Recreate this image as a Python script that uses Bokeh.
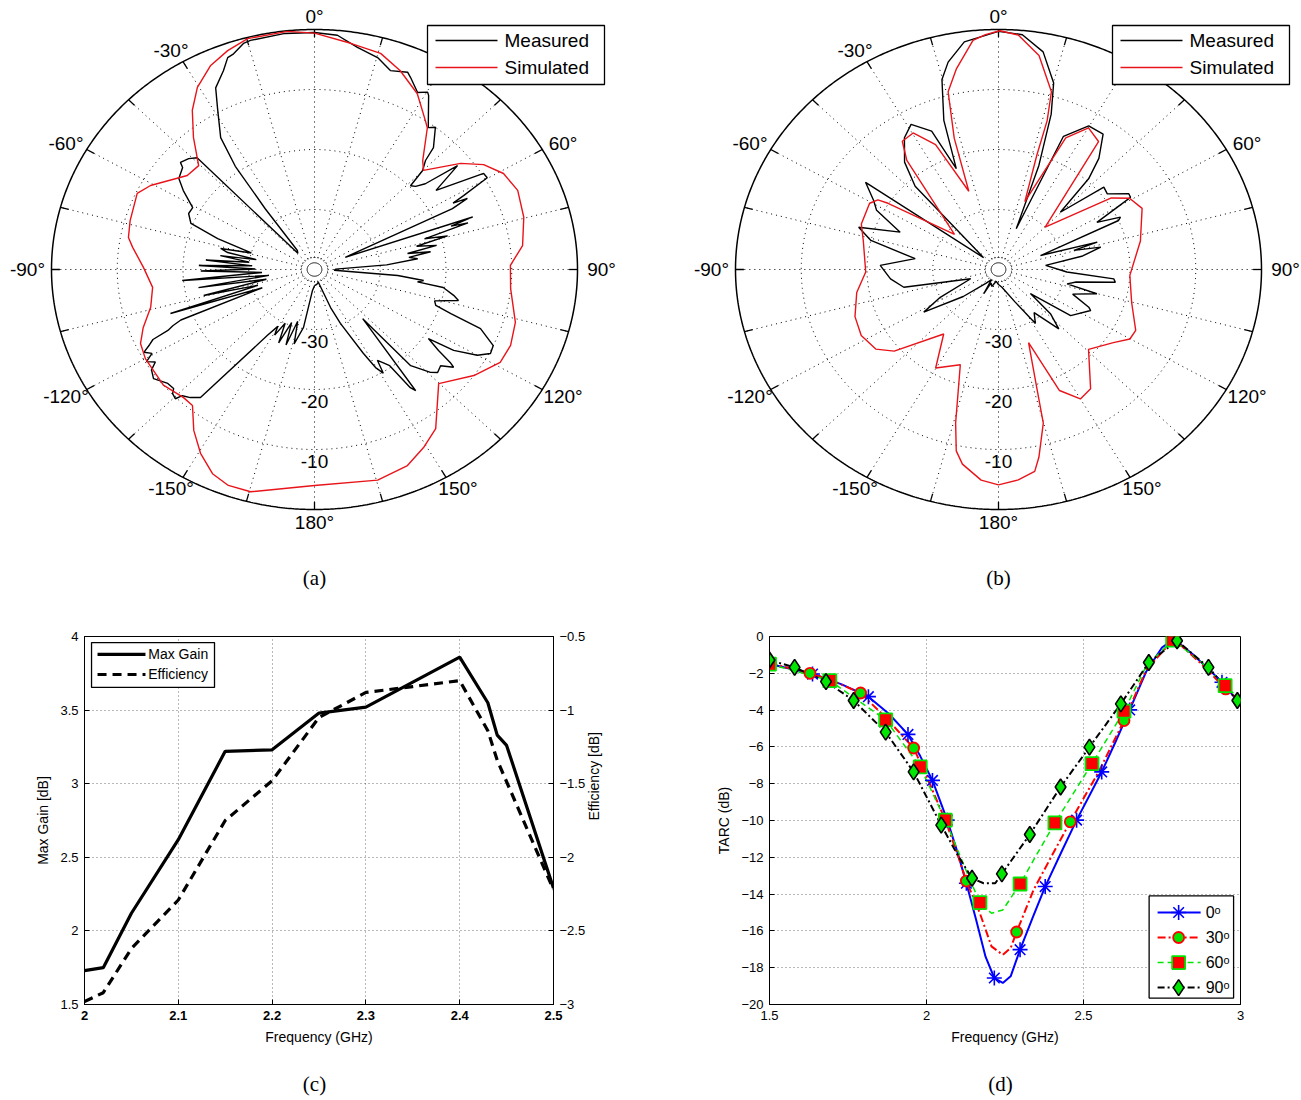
import numpy as np
from bokeh.plotting import figure
from bokeh.models import Range1d, LinearAxis, FixedTicker
from bokeh.layouts import column, row
from bokeh.core.properties import value
from bokeh.embed import file_html
from bokeh.resources import INLINE

# ---------------- DATA ----------------
# polar patterns: (angle in degrees, clockwise from top; level in dB)
a_sim = [(-180, -4.0), (-165.3, -1.7), (-160, -1.7), (-155.5, -2.6), (-150.5, -4.8), (-145.6, -7.5),
         (-140.7, -10.7), (-137, -10.8), (-130, -10.0), (-120, -10.3), (-115, -10.8), (-110.4, -12.2),
         (-104.2, -14.3), (-96.9, -15.2), (-89.3, -14.0), (-82.4, -12.1), (-79.3, -11.2), (-73.8, -10.8),
         (-64.8, -10.2), (-60.7, -11.4), (-51, -15.1), (-45.5, -15.3), (-39.9, -11.3), (-35, -7.6),
         (-30.4, -4.8), (-24.9, -2.5), (-19.9, -1.2), (-14.8, -0.2), (-5.9, -0.1), (0, -0.6), (8.3, -1.9),
         (15.6, -2.6), (21.5, -4.4), (28.1, -6.8), (34.2, -10.0), (36, -10.8), (42.2, -15.5), (45.1, -16.6),
         (51.5, -11.6), (55.8, -8.9), (60.9, -7.1), (66.9, -6.4), (74.7, -7.0), (82.8, -8.1), (88.7, -10.2),
         (96.1, -10.0), (106.1, -8.2), (113, -7.6), (118.7, -7.8), (126.1, -10.0), (135.2, -13.2),
         (145.2, -7.7), (150.8, -6.0), (156.6, -4.4), (164.7, -3.6), (180, -4.0)]

a_meas = [(-180, -37.3), (-175, -36.5), (-170.2, -30.2), (-166, -27.2), (-163.5, -31), (-161, -26.7),
          (-158.5, -30.5), (-156, -26.6), (-153.5, -30), (-151, -27.5), (-149.5, -29), (-146.9, -26.9),
          (-140.9, -12.5), (-138.5, -11.5), (-136.3, -10.9), (-135.5, -9.8), (-133.8, -10.1), (-132.8, -10.8),
          (-130.4, -10.7), (-126.6, -9.5), (-124, -10.1), (-122.5, -11.3), (-121, -10.2), (-119.5, -11.6),
          (-118, -10.6), (-116.5, -12.0), (-115.4, -12.8), (-114.5, -15.5), (-113.5, -16.5), (-112.5, -18),
          (-111, -31.5), (-108.5, -16.9), (-107, -31), (-104.4, -22.6), (-102.5, -32.5), (-99.7, -22.1),
          (-98, -33), (-95.2, -19.8), (-93.5, -32), (-90.8, -22.7), (-89.5, -31), (-87.8, -22.4),
          (-86.3, -30.5), (-84.5, -23.4), (-83, -30), (-80.8, -25.5), (-79.5, -31), (-77.9, -26.5),
          (-76.2, -25.3), (-74, -30), (-70.7, -24.4), (-67.8, -19.7), (-64, -18.7), (-60.9, -18.8),
          (-56.6, -16.1), (-53.7, -14.4), (-49.7, -13.7), (-48.8, -12.9), (-46, -13.4), (-43.8, -14.2),
          (-43.2, -36.3), (-39.4, -35.9), (-36.5, -27.4), (-35, -19), (-33, -13.8), (-28.8, -9.4),
          (-26.4, -6.2), (-22.7, -4.1), (-20.5, -2.3), (-18.9, -2.0), (-16, -0.8), (-14.3, -0.6),
          (-6.5, -0.4), (0, -0.5), (5.1, -0.8), (10, -2.4), (15.2, -3.4), (19.2, -4.9), (23.3, -4.2),
          (24.5, -4.8), (28, -6.6), (30.2, -5.8), (30.9, -6.2), (36.2, -10.7), (37.8, -10.0), (41.7, -12.8),
          (42.9, -15.2), (44.9, -16.7), (46.3, -19.8), (48, -19.3), (49.7, -17.9), (51.5, -12.2),
          (54.5, -17.3), (58.1, -9.7), (59.8, -9.6), (61.5, -14.2), (62.3, -16.2), (63, -13.9), (64.2, -16.7),
          (66.5, -34.9), (70, -14.4), (70.8, -18.0), (71.6, -15.4), (73, -22.5), (74.5, -19.0), (76, -24),
          (77.8, -21), (79.3, -25.6), (80.5, -22.1), (82, -25.5), (83.5, -24.2), (86, -29), (89, -36.8),
          (92.5, -37), (94.5, -27.3), (96.3, -23.3), (97.5, -24.2), (98.7, -20.2), (101.5, -18.4),
          (103.3, -17.5), (106, -21), (108, -20.6), (109.5, -18.0), (111.3, -12.9), (115, -10.0),
          (117.6, -9.8), (120, -11.4), (122.5, -14.9), (123.6, -19.2), (125.6, -16.8), (126.9, -14.2),
          (127.6, -13.3), (129.9, -15.0), (132.5, -14.6), (134.2, -15.4), (137.6, -18.3), (138.2, -29.0),
          (142.7, -14.6), (143.5, -15.5), (144.5, -20.3), (146.5, -21.5), (147.7, -22.1), (148.8, -19.8),
          (150.4, -21.2), (152, -24.2), (156.3, -30.2), (158.9, -33.2), (164.5, -37.8), (172, -37.5),
          (180, -37.3)]

b_sim = [(-180, -4.1), (-175.7, -4.8), (-170.4, -7.1), (-168, -9.1), (-165.7, -13.6), (-159.9, -23.1),
         (-149.8, -21.0), (-142.2, -26.4), (-130.6, -19.1), (-125.4, -17.1), (-117.8, -16.4), (-109.8, -16.8),
         (-100.1, -18.1), (-91.2, -19.8), (-77, -18.9), (-70, -17.8), (-60.6, -17.5), (-57.7, -18.3),
         (-56.7, -19.9), (-48.8, -31.1), (-37.5, -17.1), (-34.4, -14.1), (-29.7, -13.8), (-24.7, -17.1),
         (-19.1, -26.2), (-17.1, -17.1), (-14.5, -9.4), (-10.9, -6.0), (-5.8, -1.6), (-2.9, -0.8),
         (0.3, -0.2), (4.4, -0.8), (9.8, -3.8), (15.2, -9.3), (16.6, -14.1), (17, -20.0), (19.5, -28),
         (25, -15.8), (30.1, -12.7), (35.5, -13.8), (45.2, -30.0), (55.2, -19.1), (59.2, -16.8),
         (65, -15.9), (77.6, -17.9), (92.8, -20.0), (105.3, -19.0), (115.9, -16.8), (120.1, -16.9),
         (124.9, -18.7), (134.2, -20.9), (144.8, -15.7), (150, -15.1), (155.3, -17.8), (159.4, -27.0),
         (163.6, -19.3), (165.1, -13.5), (168.9, -8.1), (170.7, -5.9), (175.1, -4.8), (180, -4.1)]

b_meas = [(-180, -37.5), (-170, -38), (-160, -37), (-153, -37.5), (-151, -35.4), (-148, -38),
          (-140, -37), (-130, -33), (-122, -26.6), (-117.6, -30), (-110, -35.5), (-101.6, -25.3),
          (-95.4, -23.5), (-87.8, -22.0), (-81.9, -27.2), (-76, -20), (-71.7, -17.6), (-67.4, -23.8),
          (-62, -19), (-58.8, -17.8), (-54.3, -15.1), (-49, -37), (-42.4, -21.2), (-38.6, -17.1),
          (-33.1, -13.8), (-28.8, -12.4), (-23.8, -14.8), (-20.9, -22.0), (-18.5, -13.8), (-15.2, -7.2),
          (-12.5, -4.6), (-7.8, -1.7), (0, -0.3), (5.3, -0.7), (10.6, -3.1), (15.1, -7.8), (17.2, -12.9),
          (19.5, -21.6), (21.7, -32.7), (24, -15.7), (29.8, -12.4), (35.2, -12.4), (39.5, -16.0),
          (42.2, -19.6), (44.6, -26.6), (49.4, -18.9), (52.7, -19.2), (57.5, -16.5), (59.1, -16.6),
          (62.3, -23.1), (64.8, -19.5), (65.9, -20), (70, -33.2), (73.1, -24.3), (74.5, -28.1),
          (76.5, -24), (80, -27), (84.6, -32.8), (92.3, -29.6), (95.1, -22.4), (96.8, -22.1), (100, -28),
          (102.9, -29.3), (105.1, -24.5), (110, -28), (114.6, -24.9), (116, -24.4), (125, -26.6),
          (129.6, -33.7), (133, -29.2), (137.2, -26.5), (143, -31), (148, -29.4), (155, -34), (170, -37),
          (180, -37.5)]

polar_db_min, polar_db_max = -40, 0
polar_rings = [-30, -20, -10]
polar_angle_labels = [0, 30, 60, 90, 120, 150, 180, -30, -60, -90, -120, -150]

# panel (c)
c_gain_freq = [2.0, 2.02, 2.05, 2.1, 2.15, 2.2, 2.25, 2.3, 2.4, 2.43, 2.44, 2.45, 2.5]
c_gain = [1.73, 1.75, 2.12, 2.62, 3.22, 3.23, 3.48, 3.52, 3.86, 3.55, 3.33, 3.26, 2.29]
c_eff_freq = [2.0, 2.02, 2.05, 2.1, 2.15, 2.2, 2.25, 2.3, 2.35, 2.4, 2.43, 2.44, 2.5]
c_eff = [-2.98, -2.92, -2.62, -2.29, -1.75, -1.48, -1.05, -0.88, -0.84, -0.80, -1.14, -1.34, -2.22]
c_xticks = [2.0, 2.1, 2.2, 2.3, 2.4, 2.5]
c_yticks = [1.5, 2.0, 2.5, 3.0, 3.5, 4.0]
c_y2ticks = [-3.0, -2.5, -2.0, -1.5, -1.0, -0.5]

# panel (d): TARC curves and marker positions for 0, 30, 60, 90 degrees
d0_f = [1.5, 1.64, 1.73, 1.815, 1.88, 1.941, 1.98, 2.019, 2.066, 2.1, 2.127, 2.158, 2.188, 2.216, 2.243,
        2.268, 2.298, 2.34, 2.378, 2.43, 2.478, 2.558, 2.6, 2.647, 2.7, 2.75, 2.788, 2.85, 2.9, 2.941, 2.99]
d0_t = [-1.5, -2.04, -2.6, -3.27, -4.2, -5.32, -6.5, -7.82, -9.98, -11.8, -13.41, -15.4, -17.4, -18.56,
        -18.83, -18.47, -17.02, -15.2, -13.59, -11.7, -9.98, -7.36, -5.8, -3.99, -1.9, -0.6, -0.14, -1.0,
        -1.8, -2.49, -3.48]
d0_mf = [1.5, 1.637, 1.815, 1.941, 2.019, 2.066, 2.127, 2.216, 2.298, 2.378, 2.478, 2.558, 2.647, 2.788, 2.941]
d0_mt = [-1.46, -2.04, -3.27, -5.32, -7.82, -9.98, -13.41, -18.56, -17.02, -13.59, -9.98, -7.36, -3.99, -0.14, -2.49]

d30_f = [1.5, 1.629, 1.7, 1.79, 1.87, 1.959, 2.0, 2.06, 2.1, 2.127, 2.17, 2.207, 2.243, 2.268, 2.287,
         2.341, 2.409, 2.458, 2.55, 2.629, 2.7, 2.788, 2.87, 2.953, 3.0]
d30_t = [-1.45, -2.0, -2.4, -3.07, -4.4, -6.06, -7.6, -9.98, -11.9, -13.29, -15.04, -16.84, -17.3, -16.93,
         -16.06, -13.77, -11.6, -10.07, -7.3, -4.57, -1.8, -0.14, -1.4, -2.85, -3.5]
d30_mf = [1.629, 1.79, 1.959, 2.06, 2.127, 2.287, 2.458, 2.629, 2.788, 2.953]
d30_mt = [-2.0, -3.07, -6.06, -9.98, -13.29, -16.06, -10.07, -4.57, -0.14, -2.85]

d60_f = [1.5, 1.692, 1.87, 1.98, 2.06, 2.133, 2.17, 2.207, 2.243, 2.298, 2.353, 2.409, 2.527, 2.629, 2.7,
         2.784, 2.87, 2.951, 3.0]
d60_t = [-1.5, -2.4, -4.53, -7.09, -9.98, -13.0, -14.46, -15.04, -14.86, -13.45, -11.79, -10.13, -6.91,
         -4.06, -1.6, -0.2, -1.3, -2.67, -3.45]
d60_mf = [1.5, 1.692, 1.87, 1.98, 2.06, 2.17, 2.298, 2.409, 2.527, 2.629, 2.784, 2.951]
d60_mt = [-1.5, -2.4, -4.53, -7.09, -9.98, -14.46, -13.45, -10.13, -6.91, -4.06, -0.2, -2.67]

d90_f = [1.5, 1.58, 1.68, 1.768, 1.87, 1.959, 2.047, 2.1, 2.145, 2.182, 2.219, 2.24, 2.329, 2.427, 2.519,
         2.619, 2.708, 2.798, 2.898, 2.99]
d90_t = [-1.28, -1.68, -2.45, -3.48, -5.2, -7.36, -10.25, -11.9, -13.14, -13.41, -13.41, -12.9, -10.76,
         -8.18, -6.01, -3.66, -1.41, -0.23, -1.68, -3.48]
d90_mf = [1.5, 1.58, 1.68, 1.768, 1.87, 1.959, 2.047, 2.145, 2.24, 2.329, 2.427, 2.519, 2.619, 2.708, 2.798, 2.898, 2.99]
d90_mt = [-1.28, -1.68, -2.45, -3.48, -5.2, -7.36, -10.25, -13.14, -12.9, -10.76, -8.18, -6.01, -3.66, -1.41, -0.23, -1.68, -3.48]
d_xticks = [1.5, 2.0, 2.5, 3.0]
d_yticks = list(range(-20, 1, 2))
d_legend = ["0ᵒ", "30ᵒ", "60ᵒ", "90ᵒ"]

captions = ["(a)", "(b)", "(c)", "(d)"]

# ---------------- STYLE ----------------
SANS = "Liberation Sans"
SERIF = "Liberation Serif"
SX, SY = 263.0, 240.0   # pixels per unit radius (horizontal, vertical)


def to_r(db):
    return (np.clip(np.asarray(db, float), polar_db_min, polar_db_max) - polar_db_min) / (polar_db_max - polar_db_min)


def polar_xy(pairs):
    th = np.radians([p[0] for p in pairs])
    r = to_r([p[1] for p in pairs])
    x = r * np.sin(th)
    y = r * np.cos(th)
    return list(x) + [x[0]], list(y) + [y[0]]


def polar_panel(width, height, cx, cy, meas, sim, caption, leg_left):
    p = figure(width=width, height=height,
               x_range=Range1d(-cx / SX, (width - cx) / SX),
               y_range=Range1d(-(height - cy) / SY, cy / SY),
               x_axis_type=None, y_axis_type=None, toolbar_location=None,
               output_backend="svg", min_border=0)
    p.outline_line_color = None
    t = np.linspace(0, 2 * np.pi, 721)
    for db in polar_rings:
        rr = to_r([db])[0]
        p.line(rr * np.sin(t), rr * np.cos(t), line_color="black", line_dash="1 4", line_width=1)
    p.line(0.05 * np.sin(t), 0.05 * np.cos(t), line_color="black", line_dash="1 2", line_width=1)
    p.line(0.028 * np.sin(t), 0.028 * np.cos(t), line_color="black", line_width=1)
    angs = np.radians(np.arange(0, 360, 15))
    p.multi_line([[0.05 * np.sin(a), np.sin(a)] for a in angs],
                 [[0.05 * np.cos(a), np.cos(a)] for a in angs],
                 line_color="black", line_dash="1 4", line_width=1)
    p.multi_line([[0.968 * np.sin(a), np.sin(a)] for a in angs],
                 [[0.968 * np.cos(a), np.cos(a)] for a in angs],
                 line_color="black", line_width=1.3)
    p.line(np.sin(t), np.cos(t), line_color="black", line_width=1.5)
    mx, my = polar_xy(meas)
    p.line(mx, my, line_color="black", line_width=1.4)
    sx, sy = polar_xy(sim)
    p.line(sx, sy, line_color="#e8141a", line_width=1.4)
    la = np.radians(polar_angle_labels)
    p.text((SX + 24) / SX * np.sin(la), (SY + 13) / SY * np.cos(la),
           text=[f"{a}°" for a in polar_angle_labels], text_font=value(SANS),
           text_font_size="19px", text_align="center", text_baseline="middle", text_color="black")
    p.text([0] * len(polar_rings), [-(to_r([d])[0] * SY + 12) / SY for d in polar_rings],
           text=[str(d) for d in polar_rings], text_font=value(SANS), text_font_size="19px",
           text_align="center", text_baseline="middle", text_color="black")

    def px(X, Y):
        return (X - cx) / SX, (cy - Y) / SY
    x0, y0 = px(leg_left, 25)
    x1, y1 = px(leg_left + 177, 84)
    p.quad(left=x0, right=x1, top=y0, bottom=y1, fill_color="white", line_color="black", line_width=1.3)
    for Y, col, txt in [(40, "black", "Measured"), (67, "#e8141a", "Simulated")]:
        a0, b0 = px(leg_left + 8, Y)
        a1, _ = px(leg_left + 70, Y)
        p.line([a0, a1], [b0, b0], line_color=col, line_width=1.4)
        tx, _ = px(leg_left + 77, Y)
        p.text([tx], [b0], text=[txt], text_font=value(SANS), text_font_size="19px",
               text_align="left", text_baseline="middle", text_color="black")
    cxp, cyp = px(cx, 577)
    p.text([cxp], [cyp], text=[caption], text_font=value(SERIF), text_font_size="21px",
           text_align="center", text_baseline="middle", text_color="black")
    return p


pa = polar_panel(650, 600, 314, 269, a_meas, a_sim, captions[0], 427)
pb = polar_panel(651, 600, 348, 269, b_meas, b_sim, captions[1], 462)


def style_axis(ax):
    ax.axis_line_color = "black"
    ax.major_tick_line_color = "black"
    ax.major_tick_in = 5
    ax.major_tick_out = 0
    ax.minor_tick_line_color = None
    ax.major_label_text_font = SANS
    ax.major_label_text_font_size = "13px"
    ax.major_label_text_color = "black"
    ax.axis_label_text_font = SANS
    ax.axis_label_text_font_size = "14px"
    ax.axis_label_text_font_style = "normal"
    ax.axis_label_text_color = "black"
    ax.major_label_standoff = 6
    ax.axis_label_standoff = 6


def style_axes(p, xticks, yticks, xlab, ylab, xbold=False):
    p.outline_line_color = "black"
    p.outline_line_width = 1
    p.xaxis.ticker = FixedTicker(ticks=xticks)
    p.yaxis.ticker = FixedTicker(ticks=yticks)
    p.xaxis.axis_label = xlab
    p.yaxis.axis_label = ylab
    for ax in p.xaxis + p.yaxis:
        style_axis(ax)
    if xbold:
        p.xaxis.major_label_text_font_style = "bold"
    p.grid.grid_line_color = "black"
    p.grid.grid_line_alpha = 0.55
    p.grid.grid_line_dash = "1 3"


def fmt(v):
    return f"{v:g}".replace("-", "\u2212")


# ---------------- (c) ----------------
pc = figure(width=650, height=470, x_range=Range1d(2, 2.5), y_range=Range1d(1.5, 4),
            toolbar_location=None, output_backend="svg",
            min_border_left=84, min_border_right=97, min_border_top=36, min_border_bottom=66)
pc.extra_y_ranges = {"eff": Range1d(-3, -0.5)}
style_axes(pc, c_xticks, c_yticks, "Frequency (GHz)", "Max Gain [dB]", xbold=True)
pc.xaxis.major_label_overrides = {v: fmt(v) for v in c_xticks}
pc.yaxis.major_label_overrides = {v: fmt(v) for v in c_yticks}
ax2 = LinearAxis(y_range_name="eff", ticker=FixedTicker(ticks=c_y2ticks), axis_label="Efficiency [dB]",
                 major_label_overrides={v: fmt(v) for v in c_y2ticks})
style_axis(ax2)
ax2.axis_label_orientation = np.pi / 2
pc.add_layout(ax2, "right")
pc.line(c_gain_freq, c_gain, line_color="black", line_width=3.2)
pc.line(c_eff_freq, c_eff, y_range_name="eff", line_color="black", line_width=3.2, line_dash="9 6")
pc.quad(left=2.0075, right=2.1386, top=3.959, bottom=3.654, fill_color="white", line_color="black", line_width=1.3)
pc.line([2.0139, 2.065], [3.878, 3.878], line_color="black", line_width=3.2)
pc.line([2.0139, 2.065], [3.742, 3.742], line_color="black", line_width=3.2, line_dash="9 6")
pc.text([2.068, 2.068], [3.878, 3.742], text=["Max Gain", "Efficiency"], text_font=value(SANS),
        text_font_size="14px", text_baseline="middle", text_align="left", text_color="black")

# ---------------- (d) ----------------
pdd = figure(width=651, height=470, x_range=Range1d(1.5, 3), y_range=Range1d(-20, 0),
             toolbar_location=None, output_backend="svg",
             min_border_left=119, min_border_right=61, min_border_top=36, min_border_bottom=66)
style_axes(pdd, d_xticks, d_yticks, "Frequency (GHz)", "TARC (dB)")
pdd.xaxis.major_label_overrides = {v: fmt(v) for v in d_xticks}
pdd.yaxis.major_label_overrides = {v: fmt(v) for v in d_yticks}

GREEN = "#00e600"
series = [
    (d0_f, d0_t, d0_mf, d0_mt, dict(line_color="blue", line_width=2),
     dict(marker="asterisk", size=15, line_color="blue", line_width=1.6)),
    (d30_f, d30_t, d30_mf, d30_mt, dict(line_color="red", line_width=2, line_dash="8 3 2 3"),
     dict(marker="circle", size=11, line_color="red", fill_color=GREEN, line_width=1.8)),
    (d60_f, d60_t, d60_mf, d60_mt, dict(line_color=GREEN, line_width=1.5, line_dash="6 4"),
     dict(marker="square", size=13, line_color=GREEN, fill_color="red", line_width=1.8)),
    (d90_f, d90_t, d90_mf, d90_mt, dict(line_color="black", line_width=2, line_dash="7 3 2 3"),
     dict(marker="diamond", size=16, line_color="black", fill_color=GREEN, line_width=1.6)),
]
for f, tv, mf, mt, lk, mk in series:
    pdd.line(f, tv, **lk)
for f, tv, mf, mt, lk, mk in series:
    pdd.scatter(mf, mt, **mk)
pdd.quad(left=2.709, right=2.978, top=-14.1, bottom=-19.65, fill_color="white", line_color="black", line_width=1.3)
for i, (f, tv, mf, mt, lk, mk) in enumerate(series):
    yy = -15.0 - 1.36 * i
    pdd.line([2.736, 2.873], [yy, yy], **lk)
    pdd.scatter([2.803], [yy], **mk)
pdd.text([2.889] * 4, [-15.0 - 1.36 * i for i in range(4)], text=d_legend, text_font=value(SANS),
         text_font_size="16px", text_baseline="middle", text_align="left", text_color="black")


# ---------------- captions (c), (d) ----------------
def caption_fig(width, cx, txt):
    p = figure(width=width, height=30, x_range=Range1d(0, width), y_range=Range1d(0, 30),
               x_axis_type=None, y_axis_type=None, toolbar_location=None,
               output_backend="svg", min_border=0)
    p.outline_line_color = None
    p.text([cx], [17], text=[txt], text_font=value(SERIF), text_font_size="21px",
           text_align="center", text_baseline="middle", text_color="black")
    return p


cap_c = caption_fig(650, 314, captions[2])
cap_d = caption_fig(651, 350, captions[3])

layout = column(row(pa, pb, spacing=0), row(pc, pdd, spacing=0), row(cap_c, cap_d, spacing=0), spacing=0)
open("out.html", "w").write(file_html(layout, INLINE))
